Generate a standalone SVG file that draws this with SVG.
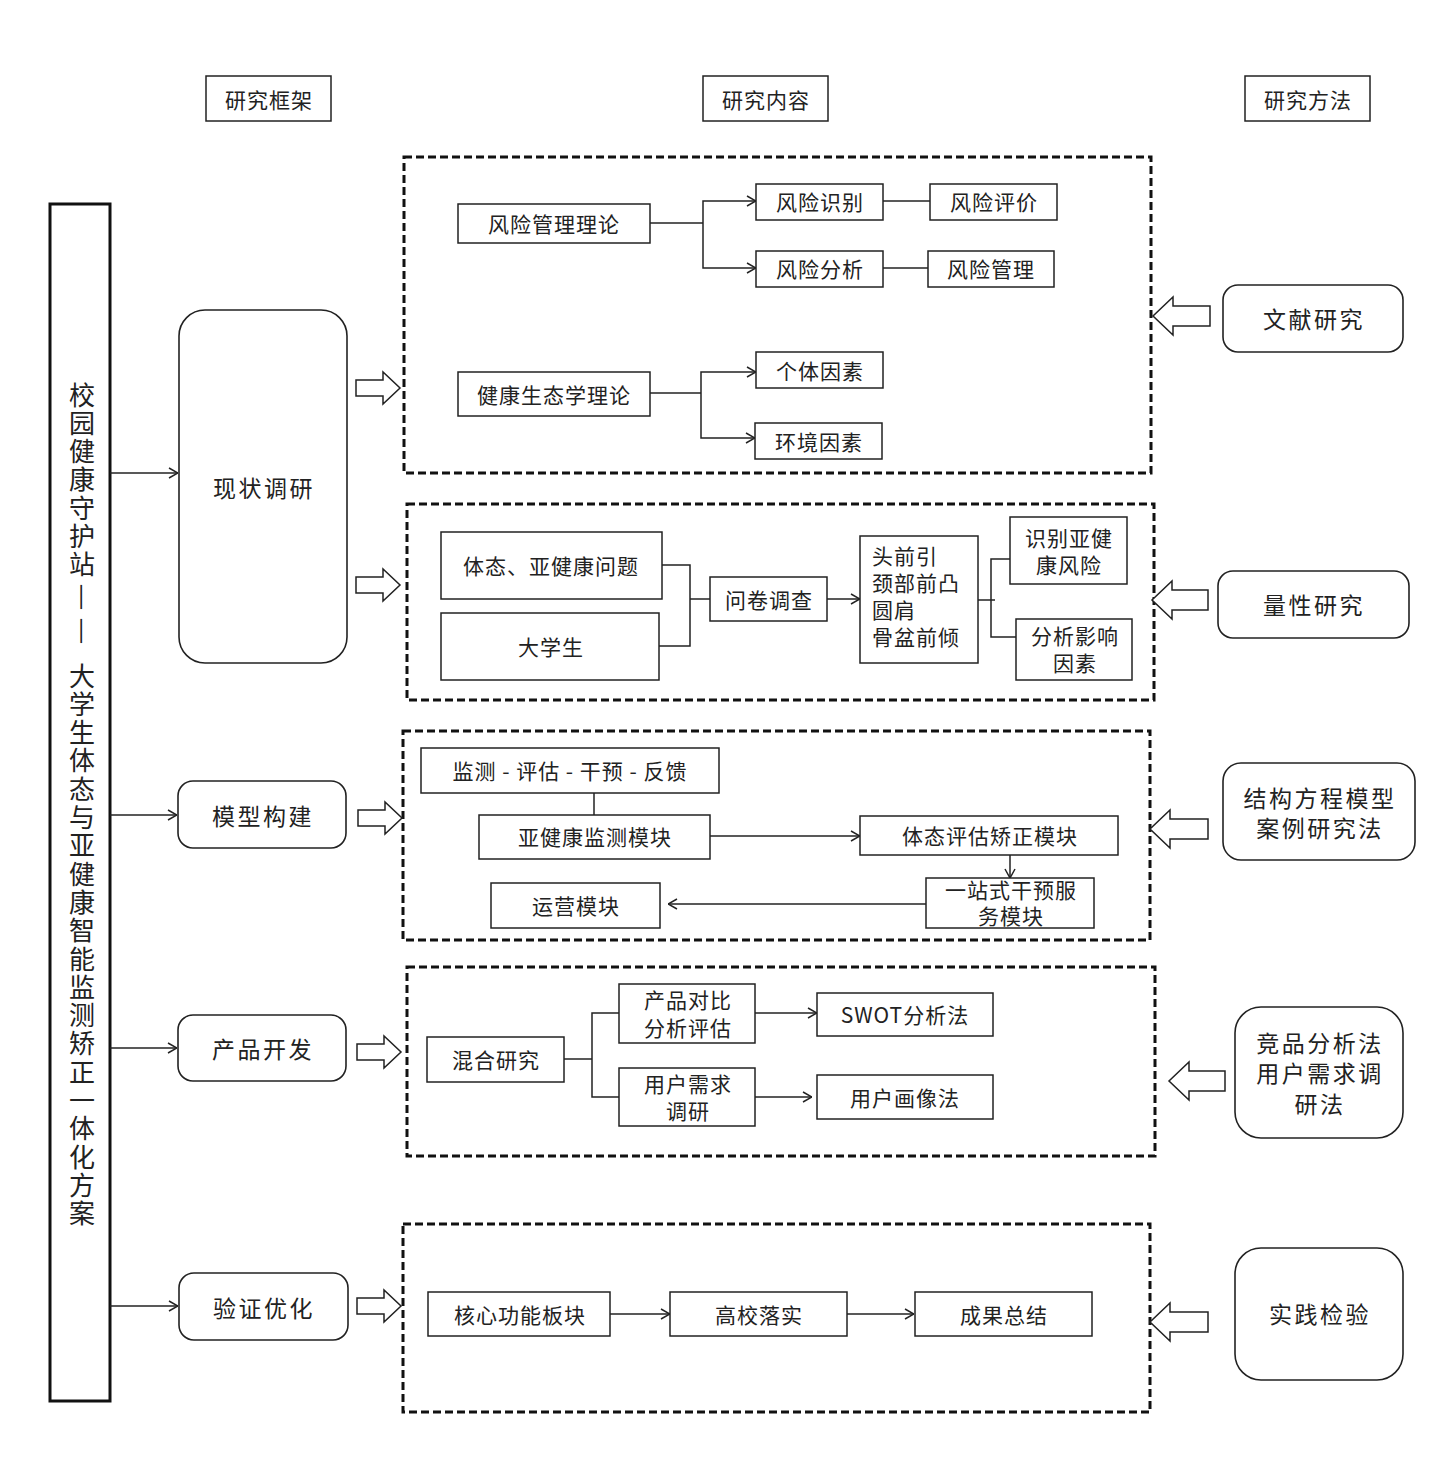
<svg xmlns="http://www.w3.org/2000/svg" width="1433" height="1457" viewBox="0 0 1433 1457">
<style>
.b{fill:#fff;stroke:#222;stroke-width:1.5}
.r{fill:#fff;stroke:#222;stroke-width:1.6}
.d{fill:none;stroke:#111;stroke-width:3;stroke-dasharray:8 4}
.c{fill:none;stroke:#222;stroke-width:1.5}
.ca{fill:none;stroke:#222;stroke-width:1.5;marker-end:url(#a)}
.ba{fill:#fff;stroke:#222;stroke-width:1.5}
.t{font-family:"Noto Sans CJK SC","Noto Sans CJK JP",sans-serif;font-size:21px;fill:#222;text-anchor:middle;dominant-baseline:central;letter-spacing:1px}
.tl{font-family:"Noto Sans CJK SC","Noto Sans CJK JP",sans-serif;font-size:21px;fill:#222;dominant-baseline:central;letter-spacing:1px}
.tb{font-family:"Noto Sans CJK SC","Noto Sans CJK JP",sans-serif;font-size:23px;fill:#222;text-anchor:middle;dominant-baseline:central;letter-spacing:2.5px}
.tv{font-family:"Noto Sans CJK SC","Noto Sans CJK JP",sans-serif;font-size:26px;fill:#222;text-anchor:middle;dominant-baseline:central}
</style>
<defs>
<marker id="a" viewBox="0 0 10 12" refX="10" refY="6" markerWidth="10" markerHeight="12" markerUnits="userSpaceOnUse" orient="auto">
<path d="M1,1 L10,6 L1,11" fill="none" stroke="#222" stroke-width="1.5"/>
</marker>
</defs>

<g id="headers">
<g id="h1"><rect class="b" x="206" y="76" width="125" height="45"/><text class="t" x="269" y="99">研究框架</text></g>
<g id="h2"><rect class="b" x="703" y="76" width="125" height="45"/><text class="t" x="766" y="99">研究内容</text></g>
<g id="h3"><rect class="b" x="1245" y="76" width="125" height="45"/><text class="t" x="1308" y="99">研究方法</text></g>
</g>

<g id="mainbar">
<rect x="50" y="204" width="60" height="1197" fill="#fff" stroke="#111" stroke-width="3"/>
<text class="tv" x="82 82 82 82 82 82 82" y="393 421.3 449.6 477.9 506.2 534.5 562.8">校园健康守护站</text>
<text class="tv" transform="translate(85,597) rotate(90)" textLength="27" lengthAdjust="spacingAndGlyphs" style="text-anchor:middle">—</text>
<text class="tv" transform="translate(85,631) rotate(90)" textLength="27" lengthAdjust="spacingAndGlyphs" style="text-anchor:middle">—</text>
<text class="tv" x="82 82 82 82 82 82 82 82 82 82 82 82 82 82 82 82 82 82 82 82" y="674 702.3 730.6 758.9 787.2 815.5 843.8 872.1 900.4 928.7 957 985.3 1013.6 1041.9 1070.2 1098.5 1126.8 1155.1 1183.4 1211.7">大学生体态与亚健康智能监测矫正一体化方案</text>
</g>

<g id="stage1"><rect class="r" x="179" y="310" width="168" height="353" rx="26"/><text class="tb" x="264" y="487">现状调研</text></g>
<g id="stage2"><rect class="r" x="178" y="781" width="168" height="67" rx="15"/><text class="tb" x="263" y="815">模型构建</text></g>
<g id="stage3"><rect class="r" x="178" y="1015" width="168" height="66" rx="15"/><text class="tb" x="263" y="1048">产品开发</text></g>
<g id="stage4"><rect class="r" x="179" y="1273" width="169" height="67" rx="15"/><text class="tb" x="264" y="1307">验证优化</text></g>

<g id="m1"><rect class="r" x="1223" y="285" width="180" height="67" rx="15"/><text class="tb" x="1314" y="318">文献研究</text></g>
<g id="m2"><rect class="r" x="1218" y="571" width="191" height="67" rx="15"/><text class="tb" x="1314" y="604">量性研究</text></g>
<g id="m3"><rect class="r" x="1223" y="763" width="192" height="97" rx="18"/><text class="tb" x="1320" y="797">结构方程模型</text><text class="tb" x="1320" y="827">案例研究法</text></g>
<g id="m4"><rect class="r" x="1235" y="1007" width="168" height="131" rx="26"/><text class="tb" x="1320" y="1042">竞品分析法</text><text class="tb" x="1320" y="1072">用户需求调</text><text class="tb" x="1320" y="1103">研法</text></g>
<g id="m5"><rect class="r" x="1235" y="1248" width="168" height="132" rx="26"/><text class="tb" x="1320" y="1313">实践检验</text></g>

<g id="panel1">
<rect class="d" x="404" y="157" width="747" height="316"/>
<g id="n-fxgl"><rect class="b" x="458" y="204" width="192" height="39"/><text class="t" x="554" y="223">风险管理理论</text></g>
<g id="n-fxsb"><rect class="b" x="756" y="184" width="127" height="36"/><text class="t" x="820" y="201">风险识别</text></g>
<g id="n-fxpj"><rect class="b" x="930" y="184" width="127" height="36"/><text class="t" x="994" y="201">风险评价</text></g>
<g id="n-fxfx"><rect class="b" x="756" y="251" width="127" height="36"/><text class="t" x="820" y="268">风险分析</text></g>
<g id="n-fxgl2"><rect class="b" x="928" y="251" width="126" height="36"/><text class="t" x="991" y="268">风险管理</text></g>
<g id="n-jkst"><rect class="b" x="458" y="372" width="192" height="44"/><text class="t" x="554" y="394">健康生态学理论</text></g>
<g id="n-gtys"><rect class="b" x="756" y="352" width="127" height="36"/><text class="t" x="820" y="370">个体因素</text></g>
<g id="n-hjys"><rect class="b" x="755" y="423" width="127" height="36"/><text class="t" x="819" y="441">环境因素</text></g>
</g>

<g id="panel2">
<rect class="d" x="407" y="504" width="747" height="196"/>
<g id="n-tt"><rect class="b" x="441" y="532" width="221" height="67"/><text class="t" x="551" y="565">体态、亚健康问题</text></g>
<g id="n-dxs"><rect class="b" x="441" y="613" width="218" height="67"/><text class="t" x="551" y="646">大学生</text></g>
<g id="n-wj"><rect class="b" x="710" y="577" width="117" height="44"/><text class="t" x="769" y="599">问卷调查</text></g>
<g id="n-tq"><rect class="b" x="860" y="536" width="118" height="127"/>
<text class="tl" x="872" y="555">头前引</text><text class="tl" x="872" y="582">颈部前凸</text><text class="tl" x="872" y="609">圆肩</text><text class="tl" x="872" y="636">骨盆前倾</text></g>
<g id="n-sb"><rect class="b" x="1010" y="517" width="117" height="67"/><text class="t" x="1069" y="537">识别亚健</text><text class="t" x="1069" y="564">康风险</text></g>
<g id="n-fx"><rect class="b" x="1016" y="619" width="116" height="61"/><text class="t" x="1075" y="635">分析影响</text><text class="t" x="1075" y="662">因素</text></g>
</g>

<g id="panel3">
<rect class="d" x="403" y="731" width="747" height="209"/>
<g id="n-jc"><rect class="b" x="421" y="748" width="298" height="45"/><text class="t" x="570" y="770" xml:space="preserve">监测 - 评估 - 干预 - 反馈</text></g>
<g id="n-yjk"><rect class="b" x="479" y="815" width="231" height="44"/><text class="t" x="595" y="836">亚健康监测模块</text></g>
<g id="n-ttpg"><rect class="b" x="860" y="816" width="258" height="39"/><text class="t" x="990" y="835">体态评估矫正模块</text></g>
<g id="n-yzs"><rect class="b" x="926" y="878" width="168" height="50"/><text class="t" x="1011" y="889">一站式干预服</text><text class="t" x="1011" y="915">务模块</text></g>
<g id="n-yy"><rect class="b" x="491" y="883" width="169" height="45"/><text class="t" x="576" y="905">运营模块</text></g>
</g>

<g id="panel4">
<rect class="d" x="407" y="967" width="748" height="189"/>
<g id="n-hh"><rect class="b" x="427" y="1037" width="137" height="45"/><text class="t" x="496" y="1059">混合研究</text></g>
<g id="n-cp"><rect class="b" x="619" y="984" width="136" height="59"/><text class="t" x="688" y="999">产品对比</text><text class="t" x="688" y="1027">分析评估</text></g>
<g id="n-swot"><rect class="b" x="817" y="993" width="176" height="43"/><text class="t" x="905" y="1014">SWOT分析法</text></g>
<g id="n-yh"><rect class="b" x="619" y="1068" width="136" height="58"/><text class="t" x="688" y="1083">用户需求</text><text class="t" x="688" y="1110">调研</text></g>
<g id="n-hx"><rect class="b" x="817" y="1075" width="176" height="44"/><text class="t" x="905" y="1097">用户画像法</text></g>
</g>

<g id="panel5">
<rect class="d" x="403" y="1224" width="747" height="188"/>
<g id="n-hx2"><rect class="b" x="428" y="1292" width="182" height="44"/><text class="t" x="520" y="1314">核心功能板块</text></g>
<g id="n-gx"><rect class="b" x="670" y="1292" width="177" height="44"/><text class="t" x="759" y="1314">高校落实</text></g>
<g id="n-cg"><rect class="b" x="915" y="1292" width="177" height="44"/><text class="t" x="1004" y="1314">成果总结</text></g>
</g>

<g id="connectors">
<line class="ca" x1="110" y1="473" x2="178" y2="473"/>
<line class="ca" x1="110" y1="815" x2="177" y2="815"/>
<line class="ca" x1="110" y1="1048" x2="177" y2="1048"/>
<line class="ca" x1="110" y1="1306" x2="178" y2="1306"/>

<polygon class="ba" points="356,380 383,380 383,372 400,388 383,404 383,396 356,396"/>
<polygon class="ba" points="356,577 383,577 383,569 400,585 383,601 383,593 356,593"/>
<polygon class="ba" points="358,810 385,810 385,802 402,818 385,834 385,826 358,826"/>
<polygon class="ba" points="357,1044 384,1044 384,1036 401,1052 384,1068 384,1060 357,1060"/>
<polygon class="ba" points="357,1298 384,1298 384,1290 401,1306 384,1322 384,1314 357,1314"/>

<polygon class="ba" points="1210,306 1173,306 1173,297 1153,316 1173,335 1173,326 1210,326"/>
<polygon class="ba" points="1208,590 1172,590 1172,581 1152,600 1172,619 1172,610 1208,610"/>
<polygon class="ba" points="1208,819 1170,819 1170,810 1150,829 1170,848 1170,839 1208,839"/>
<polygon class="ba" points="1225,1071 1189,1071 1189,1062 1169,1081 1189,1100 1189,1091 1225,1091"/>
<polygon class="ba" points="1208,1312 1170,1312 1170,1303 1150,1322 1170,1341 1170,1332 1208,1332"/>

<polyline class="c" points="650,223 703,223"/>
<path class="ca" d="M703,223 V201 H756"/>
<path class="ca" d="M703,223 V268 H756"/>
<line class="c" x1="883" y1="201" x2="930" y2="201"/>
<line class="c" x1="883" y1="268" x2="928" y2="268"/>
<line class="c" x1="650" y1="393" x2="701" y2="393"/>
<path class="ca" d="M701,393 V372 H756"/>
<path class="ca" d="M701,393 V438 H755"/>

<path class="c" d="M662,565 H690 V646 H659"/>
<line class="c" x1="690" y1="599" x2="710" y2="599"/>
<line class="ca" x1="827" y1="599" x2="860" y2="599"/>
<line class="c" x1="978" y1="600" x2="995" y2="600"/>
<path class="c" d="M1010,559 H991 V637 H1016"/>

<line class="c" x1="594" y1="793" x2="594" y2="815"/>
<line class="ca" x1="710" y1="836" x2="860" y2="836"/>
<line class="ca" x1="1010" y1="855" x2="1010" y2="878"/>
<line class="ca" x1="926" y1="904" x2="668" y2="904"/>

<line class="c" x1="564" y1="1059" x2="592" y2="1059"/>
<path class="c" d="M619,1013 H592 V1097 H619"/>
<line class="ca" x1="755" y1="1013" x2="817" y2="1013"/>
<line class="ca" x1="755" y1="1097" x2="812" y2="1097"/>

<line class="ca" x1="610" y1="1314" x2="670" y2="1314"/>
<line class="ca" x1="847" y1="1314" x2="914" y2="1314"/>
</g>
</svg>
